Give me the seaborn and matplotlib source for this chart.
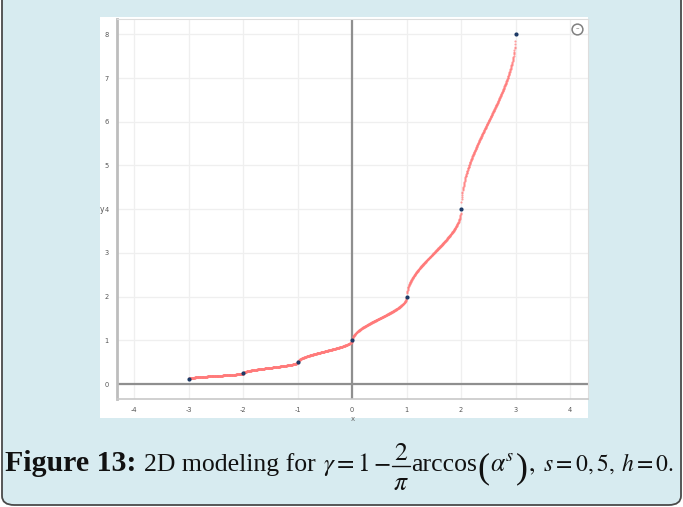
import numpy as np
import pandas as pd
import matplotlib
matplotlib.use("Agg")
import matplotlib.pyplot as plt
from matplotlib.patches import FancyBboxPatch, Rectangle
from matplotlib.lines import Line2D
import seaborn as sns

# Node values y = 2**x at the integers
x_nodes = [-3, -2, -1, 0, 1, 2, 3]
y_nodes = [0.125, 0.25, 0.5, 1, 2, 4, 8]
x_ticks = [-4, -3, -2, -1, 0, 1, 2, 3, 4]
y_ticks = [0, 1, 2, 3, 4, 5, 6, 7, 8]
s_param = 0.5  # exponent s in the interpolating arccos law

# Curve between the nodes: y = 2**n * (1 + gamma(frac)), gamma = 1 - 2/pi * arccos(frac**s)
xs = np.arange(x_nodes[0], x_nodes[-1] + 1e-9, 0.004)
n = np.floor(xs)
n[-1] = x_nodes[-2]
frac = xs - n
gamma = 1 - 2 / np.pi * np.arccos(np.clip(frac, 0, 1) ** s_param)
ys = 2.0 ** n * (1 + gamma)
curve = pd.DataFrame({"x": xs, "y": ys})
nodes = pd.DataFrame({"x": x_nodes, "y": y_nodes})

sns.set_style("white")
plt.rcParams["font.family"] = ["DejaVu Sans"]
plt.rcParams["mathtext.fontset"] = "stix"

W, H = 683, 507
fig = plt.figure(figsize=(W / 100, H / 100), dpi=100)
fig.patch.set_facecolor("white")

def fx(px):
    return px / W

def fy(py):
    return 1 - py / H

# Light blue card with rounded dark border
card = FancyBboxPatch((fx(2), fy(505)), fx(679), fy(-30) - fy(505),
                      boxstyle="round,pad=0,rounding_size=0.018",
                      transform=fig.transFigure, facecolor="#d7ebf0",
                      edgecolor="#4a4a4a", linewidth=1.3, zorder=-2)
fig.patches.append(card)
# White plot panel
panel = Rectangle((fx(100), fy(418)), fx(588) - fx(100), fy(17) - fy(418),
                  transform=fig.transFigure, facecolor="white",
                  edgecolor="none", zorder=-1)
fig.patches.append(panel)

ax = fig.add_axes([fx(117), fy(399), fx(588) - fx(117), fy(19) - fy(399)])
ax.set_zorder(1)
ax.set_facecolor("white")
ax.set_xlim(-4.32, 4.33)
ax.set_ylim(-0.34, 8.35)
ax.set_xticks(x_ticks)
ax.set_yticks(y_ticks)
ax.set_xticklabels([str(t) for t in x_ticks])
ax.set_yticklabels([str(t) for t in y_ticks])
ax.tick_params(length=0, labelsize=4.8, labelcolor="#555555", pad=6)
ax.grid(True, color="#efefef", linewidth=0.9)
ax.set_axisbelow(True)
for side, sp in ax.spines.items():
    sp.set_color("#dddddd")
    sp.set_linewidth(0.8)
ax.spines["left"].set_color("#bdbdbd")
ax.spines["left"].set_linewidth(2.0)
ax.spines["bottom"].set_color("#c8c8c8")
ax.spines["bottom"].set_linewidth(1.2)

ax.axhline(0, color="#8f8f8f", linewidth=1.6, zorder=1)
ax.axvline(0, color="#8f8f8f", linewidth=1.6, zorder=1)

sns.scatterplot(data=curve, x="x", y="y", ax=ax, s=2.4, color="#ff7a7a",
                alpha=0.72, linewidth=0, zorder=2, legend=False)
sns.scatterplot(data=nodes, x="x", y="y", ax=ax, s=9, color="#1d3a66",
                linewidth=0, zorder=3, legend=False)

ax.set_xlabel("x", fontsize=5, color="#666666", labelpad=2)
ax.set_ylabel("")
fig.text(fx(102), fy(210), "y", fontsize=5.5, color="#555555",
         ha="center", va="center")

# Zoom-out control in the corner of the panel
ax.scatter([0.977], [0.975], s=60, facecolor="white", edgecolor="#808080",
           linewidth=1.1, transform=ax.transAxes, zorder=5, clip_on=False)
ax.text(0.977, 0.975, "\u2013", fontsize=5, color="#666666", ha="center",
        va="center", transform=ax.transAxes, zorder=6)

# Caption, laid out piece by piece along the baseline
fig.canvas.draw()
renderer = fig.canvas.get_renderer()
FS = 18.5
BASE = 471
cursor = [5.0]

def put(txt, gap=0.0, size=FS, base=BASE, **kw):
    x0 = cursor[0] + gap
    t = fig.text(fx(x0), fy(base), txt, fontsize=size, ha="left",
                 va="baseline", color="#111111", **kw)
    bb = t.get_window_extent(renderer)
    cursor[0] = bb.x1
    return t

put("Figure 13:", size=21.5, family="Liberation Serif", fontweight="bold")
put("2D modeling for", gap=8, family="Liberation Serif")
put(r"$\gamma = 1 -$", gap=7, size=18)
# stacked fraction 2 / pi
fx0 = cursor[0] + 1
fw = 18
fig.text(fx(fx0 + fw / 2), fy(460), r"$2$", fontsize=FS, ha="center",
         va="baseline", color="#111111")
fig.text(fx(fx0 + fw / 2), fy(490), r"$\pi$", fontsize=FS, ha="center",
         va="baseline", color="#111111")
fig.add_artist(Line2D([fx(fx0), fx(fx0 + fw)], [fy(466), fy(466)],
                      transform=fig.transFigure, color="#111111",
                      linewidth=1.0))
cursor[0] = fx0 + fw
put("arccos", gap=1, family="Liberation Serif")
put("(", gap=0, size=26, base=477, family="Liberation Serif")
put(r"$\alpha^{s}$", gap=1)
put(")", gap=1, size=26, base=477, family="Liberation Serif")
put(r"$,$", gap=0)
put(r"$s = 0,5,$", gap=8, size=17)
put(r"$h = 0.$", gap=7, size=17)

fig.savefig("out.png", dpi=100, facecolor="white")
